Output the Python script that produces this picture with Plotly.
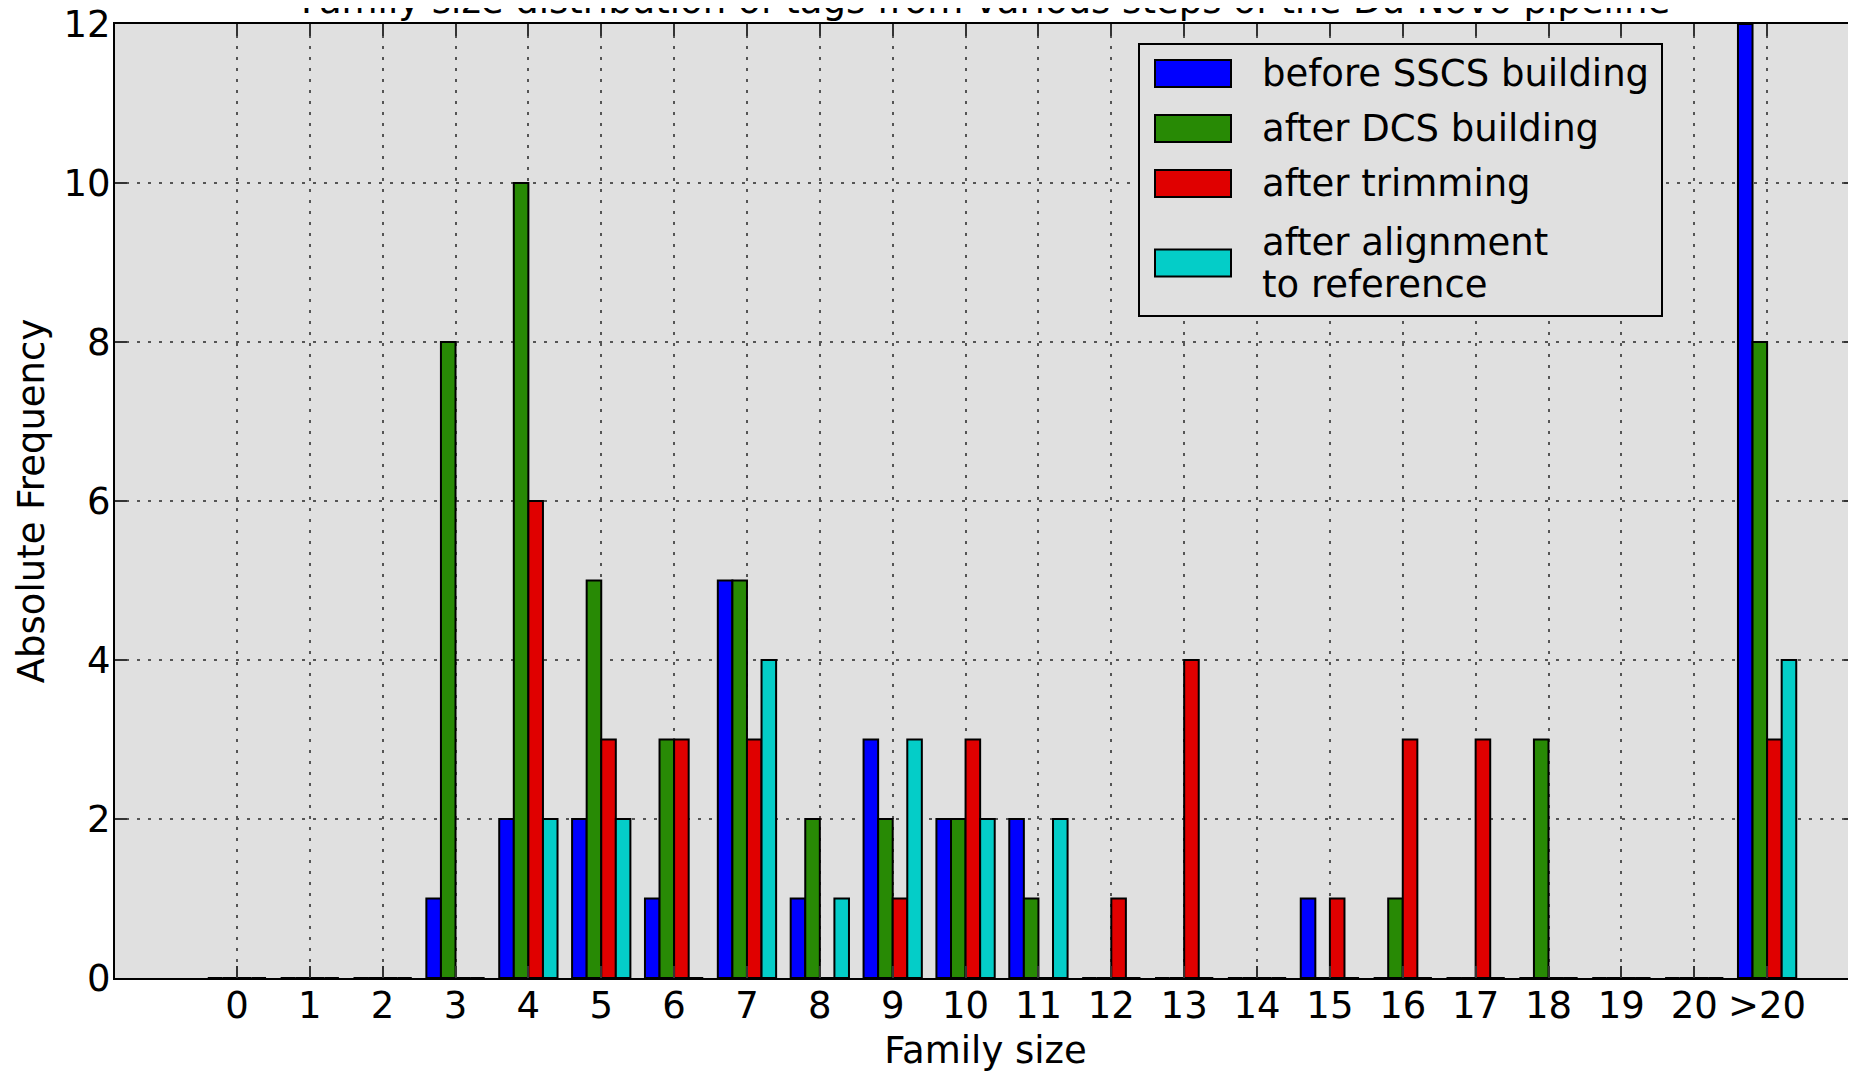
import plotly.graph_objects as go

# ---- data ----
family_sizes = ["0", "1", "2", "3", "4", "5", "6", "7", "8", "9", "10",
                "11", "12", "13", "14", "15", "16", "17", "18", "19", "20", ">20"]
before_sscs = [0, 0, 0, 1, 2, 2, 1, 5, 1, 3, 2, 2, 0, 0, 0, 1, 0, 0, 0, 0, 0, 12]
after_dcs = [0, 0, 0, 8, 10, 5, 3, 5, 2, 2, 2, 1, 0, 0, 0, 0, 1, 0, 3, 0, 0, 8]
after_trimming = [0, 0, 0, 0, 6, 3, 3, 3, 0, 1, 3, 0, 1, 4, 0, 1, 3, 3, 0, 0, 0, 3]
after_alignment = [0, 0, 0, 0, 2, 2, 0, 4, 1, 3, 2, 2, 0, 0, 0, 0, 0, 0, 0, 0, 0, 4]
series_names = ["before SSCS building", "after DCS building", "after trimming",
                "after alignment\nto reference"]
series_values = [before_sscs, after_dcs, after_trimming, after_alignment]
series_colors = ["#0000ff", "#288a05", "#e00000", "#04cdc8"]
y_ticks = [0, 2, 4, 6, 8, 10, 12]

title_text = "Family size distribution of tags from various steps of the Du Novo pipeline"

FONT = "DejaVu Sans"
FS = 37
OFF = 8  # page body margin
W, H = 1856 - OFF, 1072 - OFF
L, R, T, B = 115 - OFF, 0, 24 - OFF, 94
PW, PH = W - L - R, H - T - B


def px_x(x):
    return (x - OFF - L) / PW


def px_y(y):
    return (H - B - (y - OFF)) / PH


fig = go.Figure()
for name, vals, col in zip(series_names, series_values, series_colors):
    fig.add_trace(go.Bar(
        x=family_sizes, y=vals, name=name.replace("\n", " "),
        marker=dict(color=col, line=dict(color="black", width=2)),
        showlegend=False,
    ))

axis_common = dict(
    showline=True, linecolor="black", linewidth=2, mirror="ticks",
    ticks="inside", ticklen=12, tickwidth=1.5, tickcolor="#333333",
    showgrid=True, gridcolor="#555555", gridwidth=1.5, griddash="3px,8px",
    zeroline=False, ticklabeloverflow="allow", automargin=False,
    tickfont=dict(family=FONT, size=FS, color="black"),
)

fig.update_xaxes(
    type="category", range=[-1.673, 22.22],
    ticklabelstandoff=-6,
    title=dict(text="Family size", font=dict(family=FONT, size=FS, color="black"), standoff=16),
    **axis_common,
)
fig.update_yaxes(
    range=[0, 12], tickvals=y_ticks,
    ticklabelstandoff=-5,
    title=dict(text="Absolute Frequency", font=dict(family=FONT, size=FS, color="black"), standoff=8),
    **axis_common,
)

# custom legend (matplotlib style)
shapes = [dict(type="rect", xref="paper", yref="paper",
               x0=px_x(1139), x1=px_x(1662), y0=px_y(44), y1=px_y(316),
               line=dict(color="black", width=2), fillcolor="#e0e0e0", layer="above")]
annotations = []
swatch_centers = [73.5, 128.5, 183.5, 263]
for name, col, yc in zip(series_names, series_colors, swatch_centers):
    shapes.append(dict(type="rect", xref="paper", yref="paper",
                       x0=px_x(1155), x1=px_x(1231), y0=px_y(yc - 13.5), y1=px_y(yc + 13.5),
                       line=dict(color="black", width=2), fillcolor=col, layer="above"))
    lines = name.split("\n")
    n = len(lines)
    for i, ln in enumerate(lines):
        ly = yc + (i - (n - 1) / 2) * 42
        annotations.append(dict(text=ln, xref="paper", yref="paper",
                                x=px_x(1260), y=px_y(ly), xanchor="left", yanchor="middle",
                                showarrow=False,
                                font=dict(family=FONT, size=FS, color="black")))

annotations.append(dict(text=title_text, xref="paper", yref="paper",
                        x=0.5, y=px_y(1), xanchor="center", yanchor="middle",
                        showarrow=False, font=dict(family=FONT, size=FS, color="black")))

fig.update_layout(
    width=W, height=H,
    margin=dict(l=L, r=R, t=T, b=B, pad=0, autoexpand=False),
    paper_bgcolor="white", plot_bgcolor="#e0e0e0",
    barmode="group", bargap=0.2, bargroupgap=0,
    shapes=shapes, annotations=annotations,
    font=dict(family=FONT, size=FS, color="black"),
)

fig.write_html("out.html")
